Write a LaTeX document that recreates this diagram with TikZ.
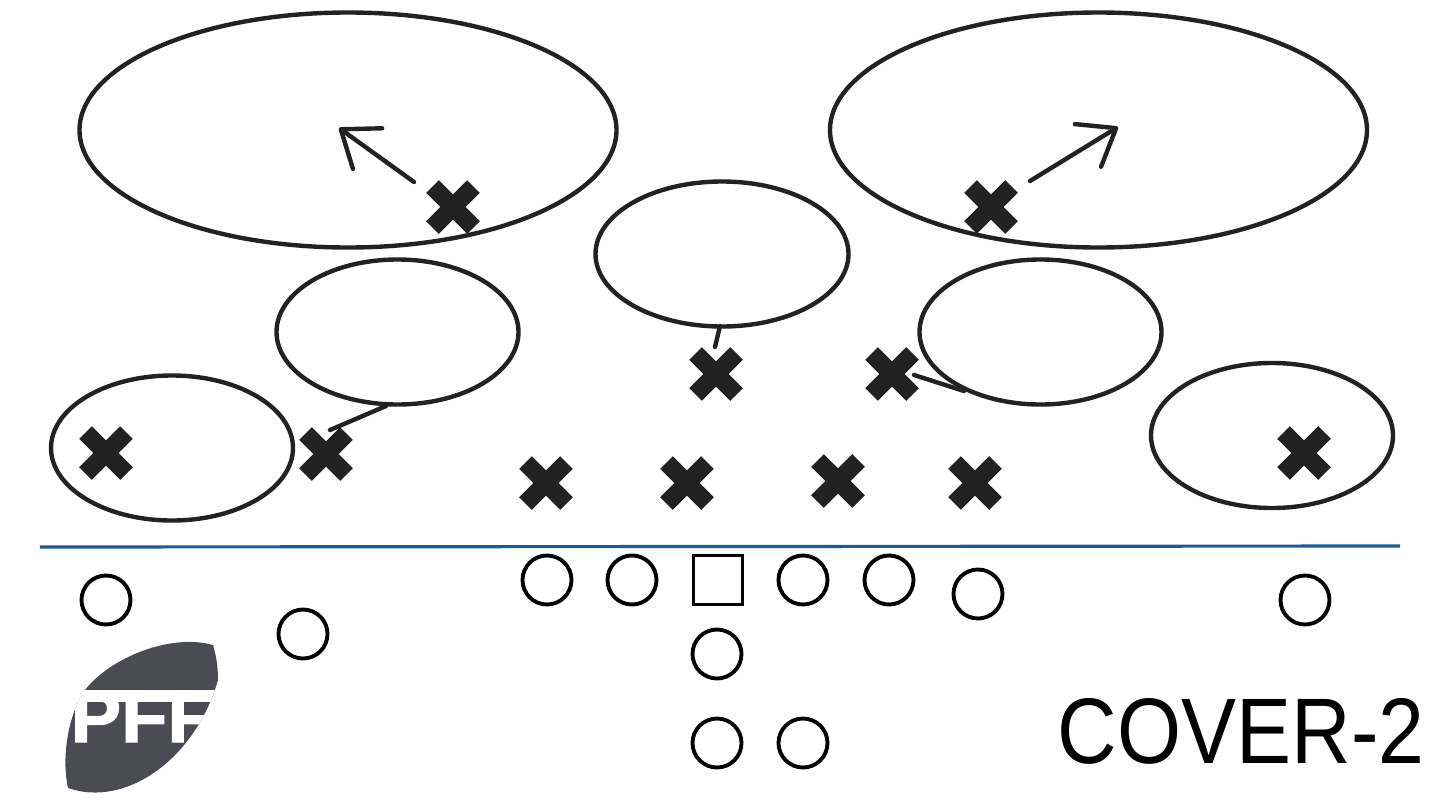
\documentclass[tikz,border=0pt]{standalone}
\usepackage{fontspec}
\usetikzlibrary{arrows.meta}
\usetikzlibrary{shapes.geometric}
\usetikzlibrary{shapes.misc}
\newfontfamily\titlefont[FakeStretch=.885]{Liberation Sans}
\newfontfamily\logofont[FakeStretch=1.05,FakeBold=1.6]{Liberation Sans Bold}
\definecolor{ink}{HTML}{222222}
\definecolor{los}{HTML}{1A5C96}
\definecolor{pffgray}{HTML}{4A4B53}
\tikzset{
	zone/.style={ellipse,draw=ink,line width=1.25pt,inner sep=0pt,outer sep=0pt},
	wide/.style={zone,minimum width=5.37cm,minimum height=2.35cm},
	mid/.style={zone,minimum width=2.42cm,minimum height=1.45cm},
	dback/.style={cross out,draw=ink,line width=.18cm,minimum size=.41cm,inner sep=0pt,outer sep=0pt},
	rcvr/.style={circle,draw=black,line width=1.1pt,minimum size=.49cm,inner sep=0pt,outer sep=0pt},
	ctr/.style={rectangle,draw=black,line width=1.1pt,minimum size=.49cm,inner sep=0pt,outer sep=0pt},
	link/.style={draw=ink,line width=1.25pt,line cap=round},
	route/.style={link,-{Straight Barb[length=.33cm,width=.5cm,line width=1.25pt,round]}},
}
\begin{document}
\begin{tikzpicture}
	\useasboundingbox (0,0) rectangle (14.4,8.1);
	% zones
	\node[wide](deepL)at(3.48,6.8){};
	\node[wide](deepR)at(10.985,6.8){};
	\node[zone,minimum width=2.53cm,minimum height=1.45cm](hole)at(7.22,5.56){};
	\node[mid](hookL)at(3.975,4.78){};
	\node[mid](hookR)at(10.405,4.78){};
	\node[mid](flatL)at(1.72,3.62){};
	\node[mid](flatR)at(12.72,3.745){};
	% defence
	\node[dback](fsL)at(4.53,6.03){};
	\node[dback](fsR)at(9.91,6.03){};
	\node[dback](mlb)at(7.16,4.36){};
	\node[dback](wlb)at(8.92,4.36){};
	\node[dback](cbL)at(1.06,3.57){};
	\node[dback](slb)at(3.26,3.56){};
	\node[dback](cbR)at(13.04,3.57){};
	\node[dback](deL)at(5.46,3.27){};
	\node[dback](dtL)at(6.87,3.27){};
	\node[dback](dtR)at(8.38,3.29){};
	\node[dback](deR)at(9.75,3.27){};
	% line of scrimmage
	\coordinate(losL)at(.4,2.63);
	\coordinate(losR)at(14,2.64);
	\draw[los,line width=.9pt](losL)--(losR);
	% offence
	\node[rcvr](wrL)at(1.06,2.1){};
	\node[rcvr](slot)at(3.03,1.76){};
	\node[rcvr](lt)at(5.47,2.3){};
	\node[rcvr](lg)at(6.32,2.3){};
	\node[ctr](c)at(7.18,2.3){};
	\node[rcvr](rg)at(8.03,2.3){};
	\node[rcvr](rt)at(8.89,2.3){};
	\node[rcvr](te)at(9.78,2.16){};
	\node[rcvr](wrR)at(13.05,2.1){};
	\node[rcvr](qb)at(7.17,1.56){};
	\node[rcvr](rb)at(7.17,.67){};
	\node[rcvr](fb)at(8.03,.67){};
	% routes
	\coordinate(fsLs)at(4.14,6.28);
	\coordinate(fsLe)at(3.39,6.82);
	\coordinate(fsRs)at(10.3,6.29);
	\coordinate(fsRe)at(11.18,6.83);
	\draw[route](fsLs)--(fsLe);
	\draw[route](fsRs)--(fsRe);
	\coordinate(slbs)at(3.3,3.8);
	\coordinate(slbe)at(3.86,4.04);
	\coordinate(mlbs)at(7.15,4.63);
	\coordinate(mlbe)at(7.2,4.84);
	\coordinate(wlbs)at(9.14,4.35);
	\coordinate(wlbe)at(9.64,4.19);
	\draw[link](slbs)--(slbe);
	\draw[link](mlbs)--(mlbe);
	\draw[link](wlbs)--(wlbe);
	% logo
	\begin{scope}
		\path[clip](2.13,1.65)..controls(1.7,1.77)and(1.1,1.52)..(.85,1.2)
			..controls(.72,1.02)and(.6,.6)..(.68,.22)
			..controls(1.25,.02)and(1.95,.5)..(2.18,1.3)
			..controls(2.18,1.45)and(2.16,1.55)..(2.13,1.65)--cycle;
		\fill[pffgray](.5,0)rectangle(2.4,1.9);
		\fill[white](.5,1.08)rectangle(2.4,1.2);
		\node[anchor=base west,inner sep=0pt,text=white,font=\logofont\fontsize{20.5}{20.5}\selectfont](pff)at(.7,.68){PFF};
	\end{scope}
	% title
	\node[anchor=base east,inner sep=0pt,font=\titlefont\fontsize{26.5}{26.5}\selectfont](title)at(14.25,.47){COVER-2};
\end{tikzpicture}
\end{document}
